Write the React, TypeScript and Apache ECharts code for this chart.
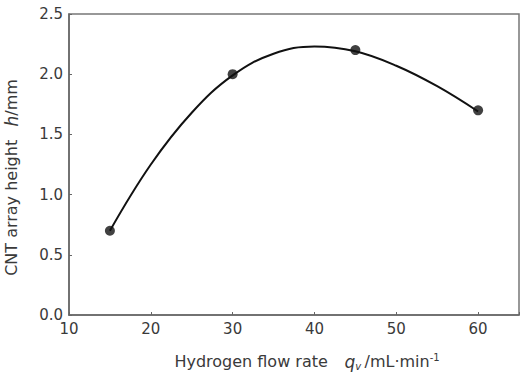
import React, { useEffect, useRef } from "react";
import * as echarts from "echarts";

const flowRates = [15, 30, 45, 60];
const heights = [0.7, 2.0, 2.2, 1.7];
const curveX = [15, 20, 25, 30, 35, 40, 45, 50, 55, 60];
const curveY = [0.7, 1.25, 1.68, 1.99, 2.17, 2.23, 2.19, 2.07, 1.9, 1.69];

export default function App() {
  const ref = useRef<HTMLDivElement>(null);
  useEffect(() => {
    const chart = echarts.init(ref.current!, null, { renderer: "svg" });
    const font = "DejaVu Sans, sans-serif";
    const col = "#3a3a3a";
    chart.setOption({
      animation: false,
      backgroundColor: "#fff",
      grid: {
        left: 69,
        top: 14,
        right: 3,
        bottom: 61,
        containLabel: false,
        outerBoundsMode: "none",
        show: true,
        borderColor: "#777",
        borderWidth: 1.5,
      },
      xAxis: {
        type: "value",
        min: 10,
        max: 65,
        interval: 10,
        axisLine: { show: true, lineStyle: { color: "#666", width: 1.5 } },
        axisTick: { show: true, inside: true, length: 3, lineStyle: { color: "#666" } },
        splitLine: { show: false },
        axisLabel: {
          color: col,
          fontSize: 15,
          fontFamily: font,
          margin: 6,
          formatter: (v: number) => (v > 60 ? "" : String(v)),
        },
        name: "{n|Hydrogen flow rate}     {q|q}{s|v} {n|/mL·min}{p|-1}",
        nameLocation: "middle",
        nameGap: 37,
        nameTextStyle: {
          padding: [0, 0, 0, 26],
          rich: {
            n: { fontSize: 16, color: col, fontFamily: font },
            q: { fontSize: 17, color: col, fontFamily: font, fontStyle: "italic" },
            s: { fontSize: 10, color: col, fontFamily: font, fontStyle: "italic", padding: [9, 0, 0, 0] },
            p: { fontSize: 10, color: col, fontFamily: font, padding: [0, 0, 9, 0] },
          },
        },
      },
      yAxis: {
        type: "value",
        min: 0,
        max: 2.5,
        interval: 0.5,
        axisLine: { show: true, lineStyle: { color: "#666", width: 1.5 } },
        axisTick: { show: true, inside: true, length: 3, lineStyle: { color: "#666" } },
        splitLine: { show: false },
        axisLabel: {
          color: col,
          fontSize: 15,
          fontFamily: font,
          margin: 6,
          formatter: (v: number) => v.toFixed(1),
        },
        name: "{n|CNT array height}    {h|h}{n|/mm}",
        nameLocation: "middle",
        nameGap: 49,
        nameRotate: 90,
        nameTextStyle: {
          padding: [0, 26, 0, 0],
          rich: {
            n: { fontSize: 16, color: col, fontFamily: font },
            h: { fontSize: 17, color: col, fontFamily: font, fontStyle: "italic" },
          },
        },
      },
      series: [
        {
          type: "line",
          data: curveX.map((x, i) => [x, curveY[i]]),
          smooth: 0.4,
          showSymbol: false,
          lineStyle: { color: "#111", width: 2 },
          silent: true,
        },
        {
          type: "scatter",
          data: flowRates.map((x, i) => [x, heights[i]]),
          symbol: "circle",
          symbolSize: 10,
          itemStyle: { color: "#111" },
        },
      ],
    });
    return () => chart.dispose();
  }, []);
  return <div ref={ref} style={{ width: 522, height: 376, position: "absolute", left: 0, top: 0 }} />;
}
